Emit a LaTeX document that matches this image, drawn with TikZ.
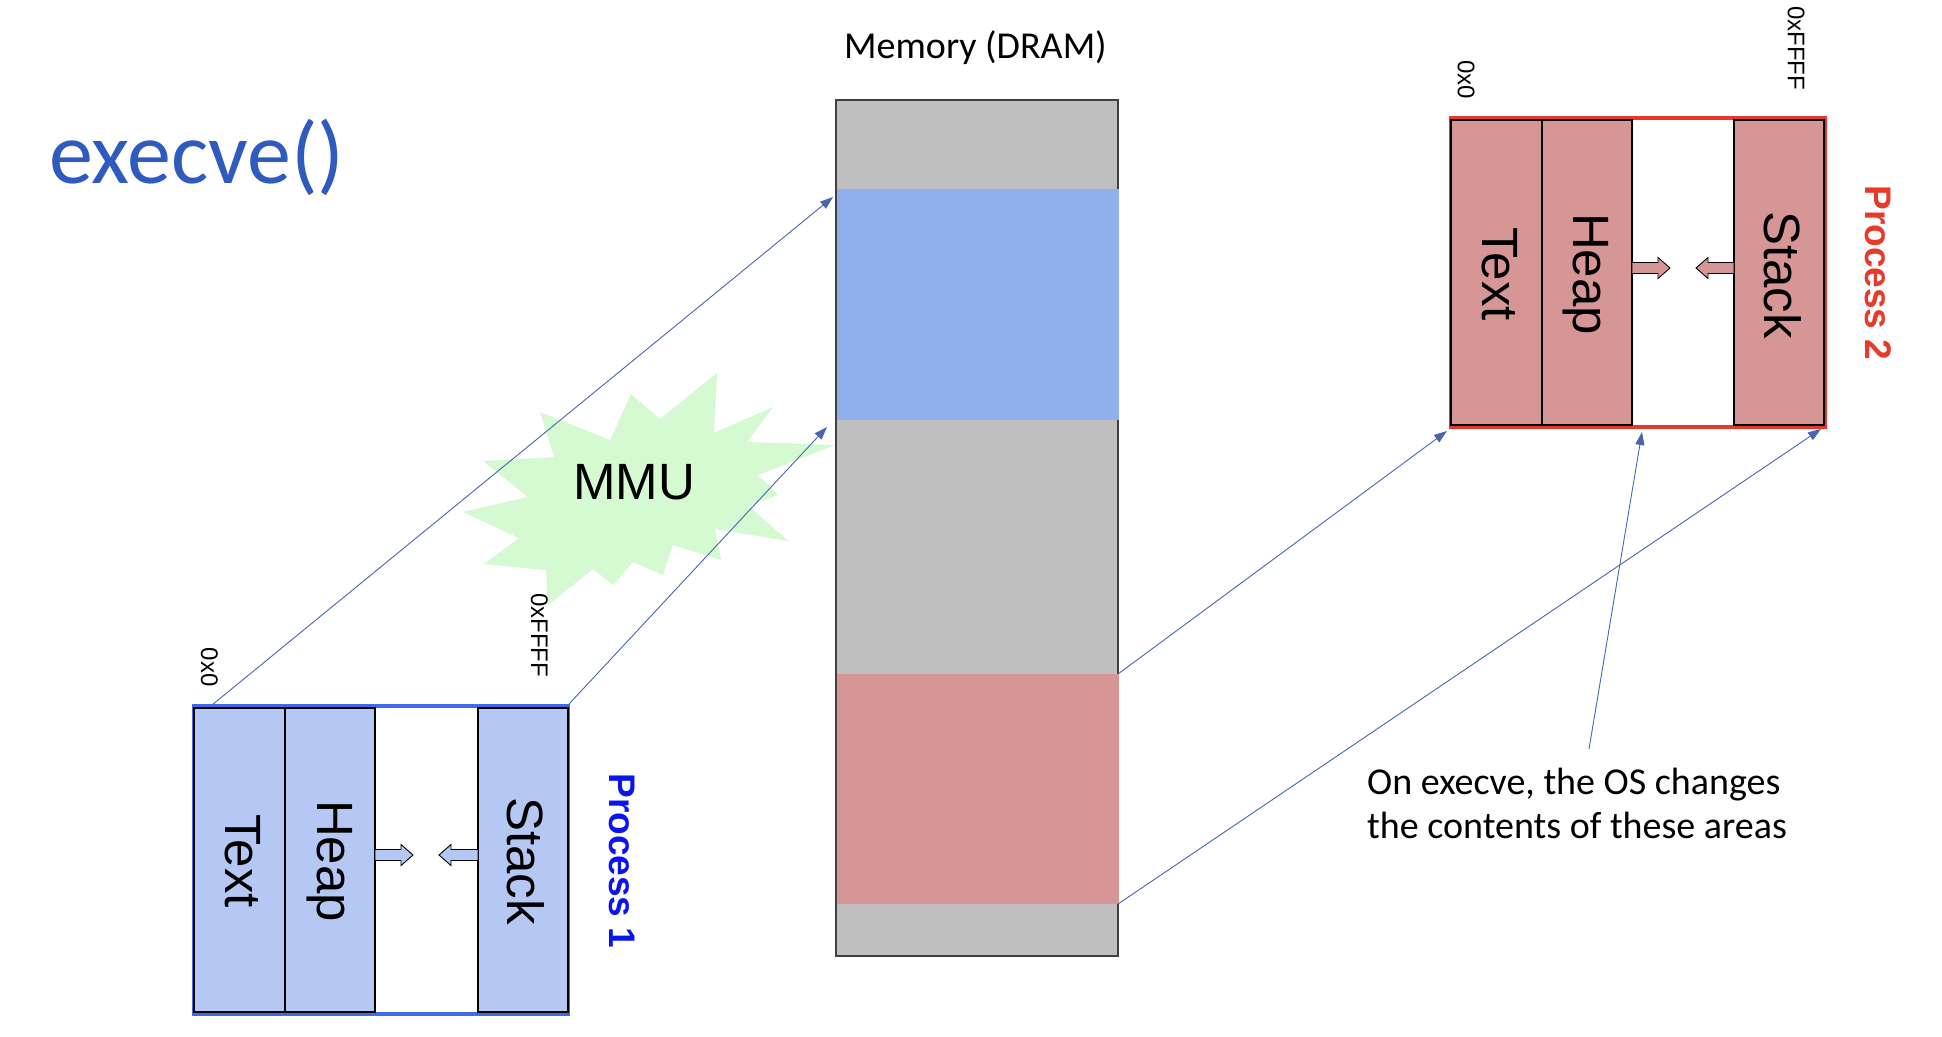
\documentclass[tikz,border=0pt]{standalone}
\usepackage{fontspec}
\setmainfont{Liberation Sans}
\newfontfamily\arialish{Liberation Sans}
\newfontfamily\calibri{Carlito}
\usetikzlibrary{arrows.meta}
\definecolor{titleblue}{HTML}{2F5BBF}
\definecolor{memgray}{HTML}{BFBFBF}
\definecolor{memedge}{HTML}{404040}
\definecolor{memblue}{HTML}{8FB0ED}
\definecolor{memred}{HTML}{D69696}
\definecolor{ponefill}{HTML}{B4C8F3}
\definecolor{poneframe}{HTML}{3D6BEA}
\definecolor{ptwoframe}{HTML}{E8382B}
\definecolor{linkblue}{HTML}{4A64AE}
\definecolor{mmugreen}{HTML}{D5F9D1}
\definecolor{procone}{HTML}{0A14F0}
\definecolor{proctwo}{HTML}{E83A2A}
\newcommand\blkarrow[5]{%
  \draw[black, line width=0.9, fill=#5] (#1,#4-5.5) -- (#2,#4-5.5) -- (#2,#4-10.5) -- (#3,#4) -- (#2,#4+10.5) -- (#2,#4+5.5) -- (#1,#4+5.5) -- cycle;}
\tikzset{
  link/.style={draw=linkblue, line width=0.9pt, -{Triangle[length=13pt,width=9pt]}},
  col/.style={draw=black, line width=1.2pt},
  seglabel/.style={rotate=-90, inner sep=0, font=\arialish\fontsize{51}{56}\selectfont},
  addr/.style={rotate=-90, inner sep=0, font=\arialish\fontsize{24}{28}\selectfont},
  proclabel/.style={rotate=-90, inner sep=0, font=\arialish\bfseries\fontsize{37}{42}\selectfont},
}
\begin{document}
\begin{tikzpicture}[x=1pt,y=-1pt]
\useasboundingbox (0,0) rectangle (1942,1036);
\fill[white] (0,0) rectangle (1942,1036);

% title
\node[anchor=base west, inner sep=0, font=\calibri\fontsize{88}{100}\selectfont, text=titleblue] (title) at (49,183) {execve()};

% MMU starburst
\fill[mmugreen] (717,373) -- (714,433) -- (773,407) -- (747,442) -- (835,445) -- (758,475) -- (778,495) -- (749,506) -- (788,541) -- (715,529) -- (721,560) -- (673,545) -- (663,575) -- (633,562) -- (613,585) -- (593,569) -- (548,605) -- (546,570) -- (484,564) -- (519,538) -- (463,512) -- (528,497) -- (483,461) -- (554,457) -- (540,412) -- (610,440) -- (631,394) -- (660,419) -- cycle;
\node[inner sep=0, font=\arialish\fontsize{51}{56}\selectfont] (mmu) at (634,482) {MMU};

% memory
\node[anchor=base west, inner sep=0, font=\calibri\fontsize{38}{44}\selectfont] (memlabel) at (844,58) {Memory (DRAM)};
\draw[memedge, line width=1.5pt, fill=memgray] (836,100) rectangle (1118,956);
\fill[memblue] (837,189) rectangle (1119,420);
\fill[memred] (837,674) rectangle (1119,904);

% process 1
\draw[poneframe, line width=4.5pt] (194,706) rectangle (568,1014);
\draw[col, fill=ponefill] (194,708) rectangle (285,1012);
\draw[col, fill=ponefill] (285,708) rectangle (375,1012);
\draw[col, fill=ponefill] (478,708) rectangle (568,1012);
\node[seglabel] (ponetext) at (243,861) {Text};
\node[seglabel] (poneheap) at (330,861) {Heap};
\node[seglabel] (ponestack) at (526,861) {Stack};
\blkarrow{375}{401}{413}{855}{ponefill}
\blkarrow{478}{451}{439}{855}{ponefill}
\node[addr] (ponelo) at (209.5,667) {0x0};
\node[addr] (ponehi) at (539.5,635) {0xFFFF};
\node[proclabel, text=procone] (ponename) at (622,861) {Process 1};

% process 2
\draw[ptwoframe, line width=4.5pt] (1451,118) rectangle (1825,427);
\draw[col, fill=memred] (1451,120) rectangle (1542,425);
\draw[col, fill=memred] (1542,120) rectangle (1632,425);
\draw[col, fill=memred] (1734,120) rectangle (1824,425);
\node[seglabel] (ptwotext) at (1500,274) {Text};
\node[seglabel] (ptwoheap) at (1586,274) {Heap};
\node[seglabel] (ptwostack) at (1783,275) {Stack};
\blkarrow{1632}{1658}{1670}{268}{memred}
\blkarrow{1734}{1708}{1696}{268}{memred}
\node[addr] (ptwolo) at (1466,80) {0x0};
\node[addr] (ptwohi) at (1796,48) {0xFFFF};
\node[proclabel, text=proctwo] (ptwoname) at (1878,273) {Process 2};

% annotation
\node[anchor=base west, inner sep=0, font=\calibri\fontsize{38}{44}\selectfont] (annoA) at (1367,794) {On execve, the OS changes};
\node[anchor=base west, inner sep=0, font=\calibri\fontsize{38}{44}\selectfont] (annoB) at (1367,838) {the contents of these areas};

% connector end points
\coordinate (ponetl) at (212,705);
\coordinate (ponetr) at (569,704);
\coordinate (membluetop) at (833,197);
\coordinate (membluebot) at (827,427);
\coordinate (memredtop) at (1118,674);
\coordinate (memredbot) at (1118,904);
\coordinate (ptwobl) at (1447,431);
\coordinate (ptwobr) at (1821,429);
\coordinate (ptwogap) at (1642,432);
\coordinate (annostart) at (1589,749);

\draw[link] (ponetl) -- (membluetop);
\draw[link] (ponetr) -- (membluebot);
\draw[link] (memredtop) -- (ptwobl);
\draw[link] (memredbot) -- (ptwobr);
\draw[link] (annostart) -- (ptwogap);
\end{tikzpicture}
\end{document}
